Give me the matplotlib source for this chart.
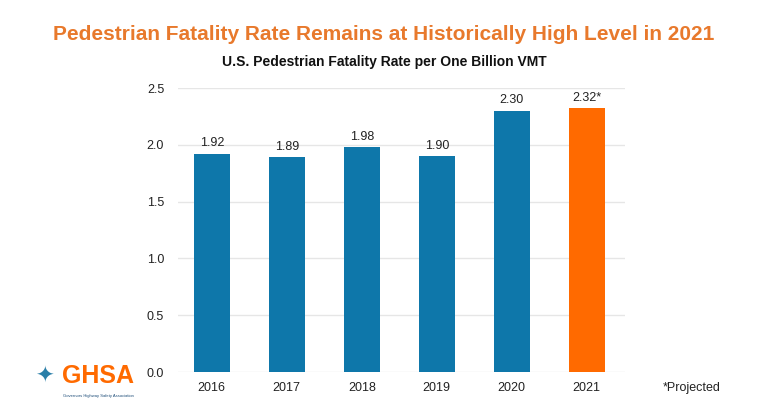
import matplotlib
matplotlib.use('Agg')
import matplotlib.pyplot as plt
import numpy as np

# Data
years = ['2016', '2017', '2018', '2019', '2020', '2021']
rates = [1.92, 1.89, 1.98, 1.90, 2.30, 2.32]
labels = ['1.92', '1.89', '1.98', '1.90', '2.30', '2.32*']
yticks = [0.0, 0.5, 1.0, 1.5, 2.0, 2.5]

BLUE = '#0E77AA'
ORANGE = '#FF6A00'
TITLE_ORANGE = '#E8792C'

plt.rcParams['font.family'] = ['Liberation Sans', 'DejaVu Sans']

fig = plt.figure(figsize=(7.68, 4.08), dpi=100)
ax = fig.add_axes([0.2318, 0.0882, 0.582, 0.696])

x = np.arange(len(years))
colors = [BLUE] * (len(years) - 1) + [ORANGE]
ax.bar(x, rates, width=0.48, color=colors, zorder=3)

for xi, v, lab in zip(x, rates, labels):
    ax.text(xi, v + 0.04, lab, ha='center', va='bottom', fontsize=9, color='#222222')

ax.set_xlim(-0.45, 5.51)
ax.set_ylim(0, 2.5)
ax.set_yticks(yticks)
ax.set_yticklabels([f'{t:.1f}' for t in yticks])
ax.set_xticks(x)
ax.set_xticklabels(years)
ax.tick_params(axis='both', length=0, labelsize=9, colors='#222222')
ax.tick_params(axis='y', pad=10)
ax.tick_params(axis='x', pad=7)
ax.grid(axis='y', color='#e6e6e6', linewidth=1, zorder=0)
for s in ax.spines.values():
    s.set_visible(False)

fig.text(0.5, 0.915, 'Pedestrian Fatality Rate Remains at Historically High Level in 2021',
         ha='center', va='center', fontsize=15, fontweight='bold', color=TITLE_ORANGE)
fig.text(0.5, 0.848, 'U.S. Pedestrian Fatality Rate per One Billion VMT',
         ha='center', va='center', fontsize=10, fontweight='bold', color='#111111')
fig.text(0.9, 0.05, '*Projected', ha='center', va='center', fontsize=9, color='#222222')

# GHSA logo (text approximation)
fig.text(0.128, 0.078, 'GHSA', ha='center', va='center', fontsize=18, fontweight='bold',
         color=ORANGE)
fig.text(0.128, 0.03, "Governors Highway Safety Association", ha='center', va='center',
         fontsize=3, color='#1F4E79')
fig.text(0.058, 0.078, '\u2726', ha='center', va='center', fontsize=16, color='#2A7FA8',
         family=['DejaVu Sans'])

fig.savefig('out.png', dpi=100)
